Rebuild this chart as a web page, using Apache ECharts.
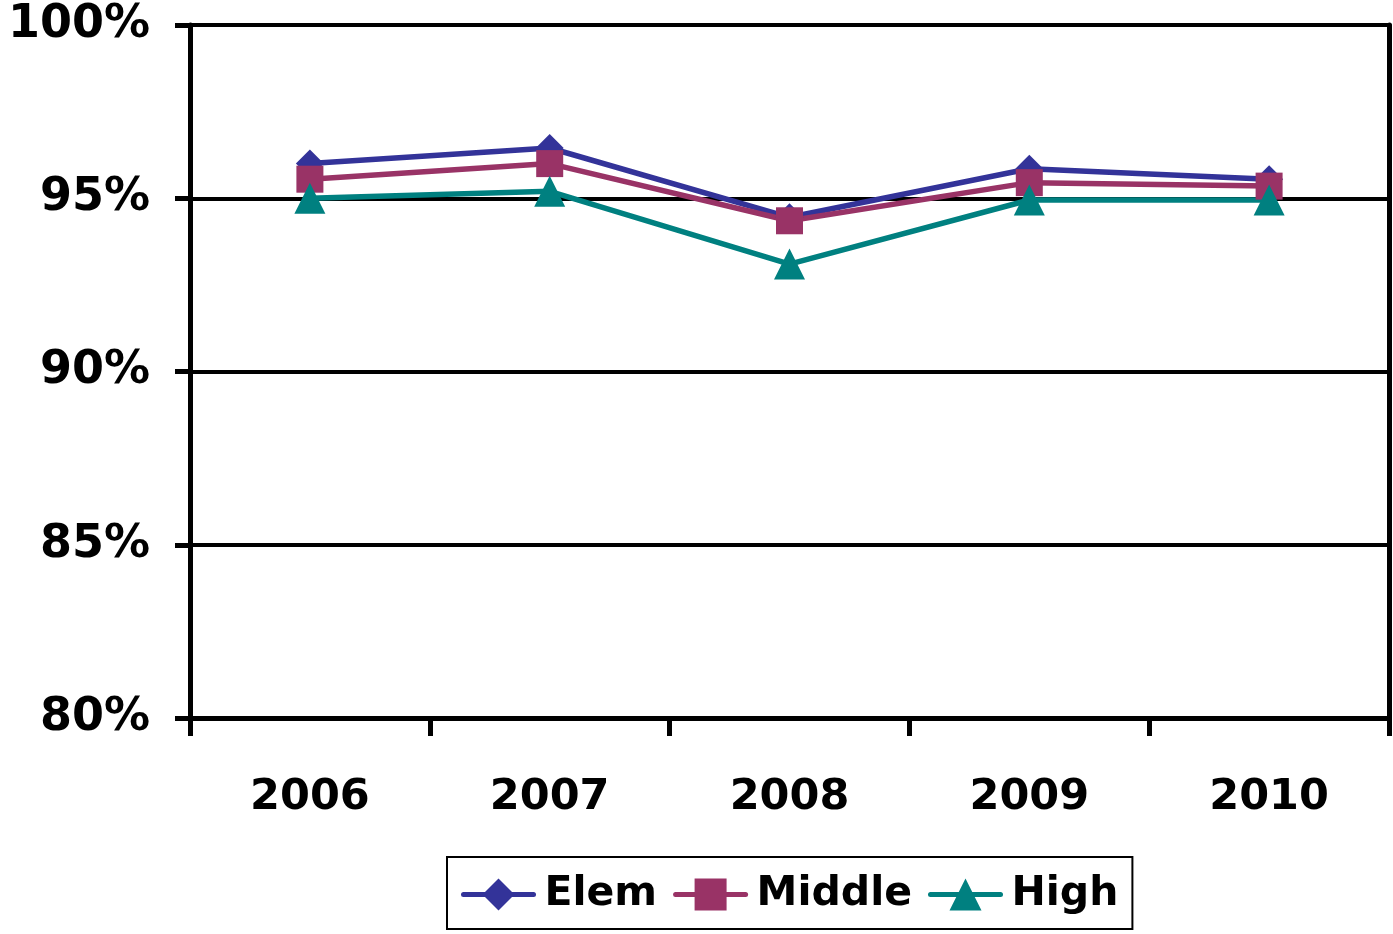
<!DOCTYPE html>
<html>
<head>
<meta charset="utf-8">
<script src="https://cdn.jsdelivr.net/npm/echarts@6/dist/echarts.min.js"></script>
<style>html,body{margin:0;padding:0;background:#fff;}#c{width:1393px;height:934px;}</style>
</head>
<body>
<div id="c"></div>
<script>
const categories = ['2006', '2007', '2008', '2009', '2010'];
const elem = [96.0, 96.45, 94.45, 95.85, 95.55];
const middle = [95.55, 96.0, 94.35, 95.45, 95.35];
const high = [95.0, 95.2, 93.1, 94.95, 94.95];
const seriesNames = ['Elem', 'Middle', 'High'];
const colors = ['#333399', '#993366', '#008080'];

const FONT = 'DejaVu Sans';
const chart = echarts.init(document.getElementById('c'));
function mk(name, data, color, symbol, size) {
  return {
    name: name, type: 'line', data: data, symbol: symbol, symbolSize: size,
    lineStyle: { color: color, width: 5.5 }, itemStyle: { color: color },
    showAllSymbol: true, animation: false
  };
}
chart.setOption({
  animation: false,
  grid: { left: 190, right: 4, top: 25, bottom: 216 },
  xAxis: {
    type: 'category', data: categories, boundaryGap: true,
    axisLine: { lineStyle: { color: '#000', width: 5 } },
    axisTick: { show: true, length: 18, lineStyle: { color: '#000', width: 5 } },
    axisLabel: { color: '#000', fontFamily: FONT, fontWeight: 'bold', fontSize: 43, margin: 58 }
  },
  yAxis: [{
    type: 'value', min: 80, max: 100, interval: 5,
    axisLine: { show: true, lineStyle: { color: '#000', width: 5 } },
    axisTick: { show: true, length: 15, lineStyle: { color: '#000', width: 5 } },
    splitLine: { show: true, lineStyle: { color: '#000', width: 4 } },
    axisLabel: { formatter: '{value}%', color: '#000', fontFamily: FONT, fontWeight: 'bold', fontSize: 46, margin: 40 }
  }, {
    type: 'value', min: 80, max: 100, interval: 5, position: 'right',
    axisLine: { show: true, lineStyle: { color: '#000', width: 5 } },
    axisTick: { show: false }, axisLabel: { show: false }, splitLine: { show: false }
  }],
  legend: {
    data: seriesNames, left: 447, top: 857, orient: 'horizontal',
    borderColor: '#000', borderWidth: 2, padding: [17, 14, 14, 14],
    itemWidth: 70, itemHeight: 40, itemGap: 16,
    lineStyle: { width: 5, cap: 'round' },
    textStyle: { color: '#000', fontFamily: FONT, fontWeight: 'bold', fontSize: 41, padding: [0, 0, 0, 6] }
  },
  series: [
    mk(seriesNames[0], elem, colors[0], 'diamond', 28),
    mk(seriesNames[1], middle, colors[1], 'rect', 27),
    mk(seriesNames[2], high, colors[2], 'triangle', 31)
  ]
});
</script>
</body>
</html>
